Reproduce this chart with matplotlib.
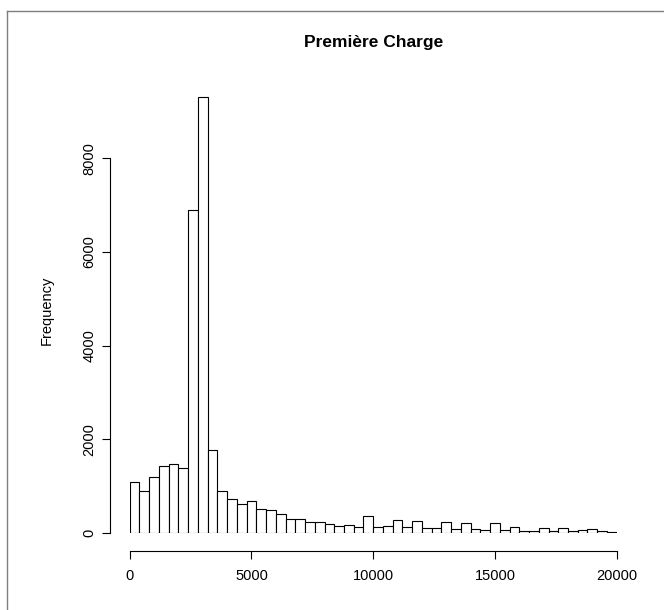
import numpy as np
import matplotlib.pyplot as plt
from matplotlib.lines import Line2D

plt.rcParams['font.family'] = ['Liberation Sans', 'DejaVu Sans']

bin_width = 400
bin_start = np.arange(0, 20000, bin_width)
counts = [1098, 890, 1205, 1439, 1482, 1397, 6890, 9309, 1766, 906,
          733, 619, 690, 512, 491, 406, 299, 299, 228, 228,
          192, 149, 171, 121, 370, 121, 149, 278, 121, 256,
          100, 100, 228, 78, 213, 78, 57, 213, 64, 121,
          36, 36, 100, 36, 100, 43, 57, 78, 36, 28]
x_ticks = [0, 5000, 10000, 15000, 20000]
y_ticks = [0, 2000, 4000, 6000, 8000]

W, H = 664, 610
fig = plt.figure(figsize=(W / 100, H / 100), dpi=100)

# plot region in pixels
x0, x1 = 129.7, 616.7
y_zero = 533.0
px_per_unit = (533.0 - 158.3) / 8000
ymax = 9500
y_top = y_zero - ymax * px_per_unit
ax = fig.add_axes([x0 / W, 1 - y_zero / H, (x1 - x0) / W, (y_zero - y_top) / H])

ax.bar(bin_start, counts, width=bin_width, align='edge',
       facecolor='white', edgecolor='black', linewidth=0.8)

ax.set_xlim(0, 20000)
ax.set_ylim(0, ymax)

# R-style detached axes
for s in ['top', 'right']:
    ax.spines[s].set_visible(False)
ax.spines['left'].set_position(('outward', 19.7 * 0.72))
ax.spines['bottom'].set_position(('outward', 18 * 0.72))
ax.spines['left'].set_bounds(0, 8000)
ax.spines['bottom'].set_bounds(0, 20000)
for s in ['left', 'bottom']:
    ax.spines[s].set_linewidth(0.8)

ax.set_xticks(x_ticks)
ax.set_xticklabels([str(v) for v in x_ticks])
ax.set_yticks(y_ticks)
ax.set_yticklabels([str(v) for v in y_ticks], rotation=90, va='center')
ax.tick_params(axis='both', length=5.6, width=0.8, labelsize=10.5, colors='black')
ax.tick_params(axis='x', pad=7)
ax.tick_params(axis='y', pad=4)

ax.set_ylabel('Frequency', fontsize=10.5, labelpad=21)
fig.text((x0 + x1) / 2 / W, 1 - 43 / H, 'Première Charge', fontsize=12.5,
         fontweight='bold', ha='center', va='center')

# outer frame of the screenshot (left and top edges)
fig.add_artist(Line2D([7 / W, 7 / W], [0, 1 - 11 / H], color='#7f7f7f', linewidth=1))
fig.add_artist(Line2D([7 / W, 1], [1 - 11 / H, 1 - 11 / H], color='#7f7f7f', linewidth=1))

fig.savefig('out.png', dpi=100)
